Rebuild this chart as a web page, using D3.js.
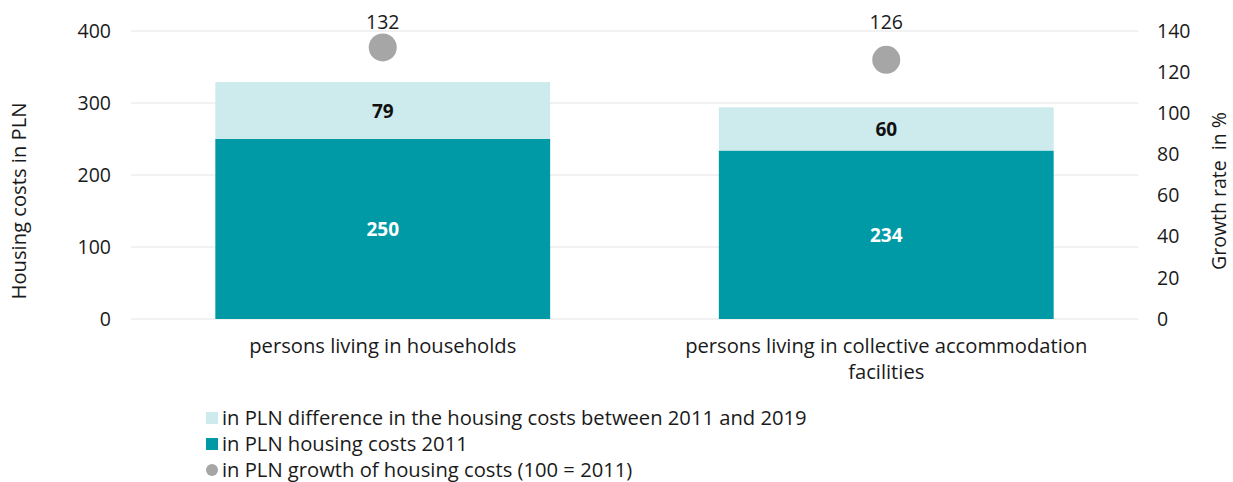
<!DOCTYPE html>
<html>
<head>
<meta charset="utf-8">
<script src="https://cdn.jsdelivr.net/npm/d3@7"></script>
<style>
  body { margin: 0; background: #fff; }
  text { font-family: "Open Sans", "Noto Sans", sans-serif; }
</style>
</head>
<body>
<svg id="chart" width="1233" height="482"></svg>
<script>
// Data
const categories = ["persons living in households", "persons living in collective accommodation facilities"];
const costs2011 = [250, 234];
const costDiff = [79, 60];
const growth = [132, 126];
const leftTicks = [0, 100, 200, 300, 400];
const rightTicks = [0, 20, 40, 60, 80, 100, 120, 140];
const legendLabels = [
  "in PLN difference in the housing costs between 2011 and 2019",
  "in PLN housing costs 2011",
  "in PLN growth of housing costs (100 = 2011)"
];

const svg = d3.select("#chart");
const plotLeft = 131, plotRight = 1138, plotTop = 31, plotBottom = 319;
const fs = 19.5, fsText = 20.2;

const x = d3.scaleBand().domain(categories).range([plotLeft, plotRight]).paddingInner(0.335).paddingOuter(0.1675);
const y = d3.scaleLinear().domain([0, 400]).range([plotBottom, plotTop]);
const y2 = d3.scaleLinear().domain([0, 140]).range([plotBottom, plotTop]);

// Gridlines
svg.append("g").selectAll("line").data(leftTicks).enter().append("line")
  .attr("x1", plotLeft).attr("x2", plotRight)
  .attr("y1", d => y(d)).attr("y2", d => y(d))
  .attr("stroke", "#e4e4e4").attr("stroke-width", 1);

// Left axis
const ax = svg.append("g").attr("transform", `translate(${plotLeft - 10},0)`)
  .call(d3.axisLeft(y).tickValues(leftTicks).tickSize(0).tickPadding(10));
ax.select(".domain").remove();
ax.selectAll("text").attr("font-size", fs).attr("fill", "#1a1a1a").style("font-family", "'Open Sans', sans-serif");

// Right axis
const ax2 = svg.append("g").attr("transform", `translate(${plotRight + 9},0)`)
  .call(d3.axisRight(y2).tickValues(rightTicks).tickSize(0).tickPadding(10));
ax2.select(".domain").remove();
ax2.selectAll("text").attr("font-size", fs).attr("fill", "#1a1a1a").style("font-family", "'Open Sans', sans-serif");

// Axis titles
svg.append("text").attr("transform", `translate(26,201) rotate(-90)`)
  .attr("text-anchor", "middle").attr("font-size", fsText).attr("fill", "#1a1a1a")
  .text("Housing costs in PLN");
svg.append("text").attr("transform", `translate(1226,191) rotate(-90)`)
  .attr("text-anchor", "middle").attr("font-size", fs).attr("fill", "#1a1a1a")
  .attr("xml:space", "preserve")
  .text("Growth rate  in %");

// Bars 2011
svg.append("g").selectAll("rect").data(categories).enter().append("rect")
  .attr("x", d => x(d)).attr("width", x.bandwidth())
  .attr("y", (d, i) => y(costs2011[i]))
  .attr("height", (d, i) => y(0) - y(costs2011[i]))
  .attr("fill", "#009aa6");

// Bars diff
svg.append("g").selectAll("rect").data(categories).enter().append("rect")
  .attr("x", d => x(d)).attr("width", x.bandwidth())
  .attr("y", (d, i) => y(costs2011[i] + costDiff[i]))
  .attr("height", (d, i) => y(costs2011[i]) - y(costs2011[i] + costDiff[i]))
  .attr("fill", "#cdeaec");

// Bar labels
svg.append("g").selectAll("text").data(categories).enter().append("text")
  .attr("x", d => x(d) + x.bandwidth() / 2)
  .attr("y", (d, i) => y(costs2011[i] / 2) + 7)
  .attr("text-anchor", "middle").attr("font-size", 19).attr("font-weight", "bold")
  .attr("fill", "#fff").text((d, i) => costs2011[i]);
svg.append("g").selectAll("text").data(categories).enter().append("text")
  .attr("x", d => x(d) + x.bandwidth() / 2)
  .attr("y", (d, i) => y(costs2011[i] + costDiff[i] / 2) + 7)
  .attr("text-anchor", "middle").attr("font-size", 19).attr("font-weight", "bold")
  .attr("fill", "#111").text((d, i) => costDiff[i]);

// Growth points
svg.append("g").selectAll("circle").data(categories).enter().append("circle")
  .attr("cx", d => x(d) + x.bandwidth() / 2)
  .attr("cy", (d, i) => y2(growth[i]))
  .attr("r", 14).attr("fill", "#a6a6a6");
// growth labels sit in a row along the top
svg.append("g").selectAll("text").data(categories).enter().append("text")
  .attr("x", d => x(d) + x.bandwidth() / 2)
  .attr("y", 29)
  .attr("text-anchor", "middle").attr("font-size", fs).attr("fill", "#1a1a1a")
  .text((d, i) => growth[i]);

// Category labels (wrapped, one text per line)
const wrapLines = [["persons living in households"], ["persons living in collective accommodation", "facilities"]];
categories.forEach((c, i) => {
  wrapLines[i].forEach((ln, j) => {
    svg.append("text").attr("text-anchor", "middle").attr("font-size", fsText).attr("fill", "#1a1a1a")
      .attr("x", x(c) + x.bandwidth() / 2).attr("y", 353 + j * 26).text(ln);
  });
});

// Legend
const legend = svg.append("g");
const lcolors = ["#cdeaec", "#009aa6", "#a6a6a6"];
legendLabels.forEach((l, i) => {
  const ly = 418 + i * 26;
  if (i < 2) {
    legend.append("rect").attr("x", 206).attr("y", ly - 6).attr("width", 12).attr("height", 12).attr("fill", lcolors[i]);
  } else {
    legend.append("circle").attr("cx", 212).attr("cy", ly).attr("r", 6).attr("fill", lcolors[i]);
  }
  legend.append("text").attr("x", 222).attr("y", ly + 7).attr("font-size", fsText).attr("fill", "#1a1a1a").text(l);
});
</script>
</body>
</html>
